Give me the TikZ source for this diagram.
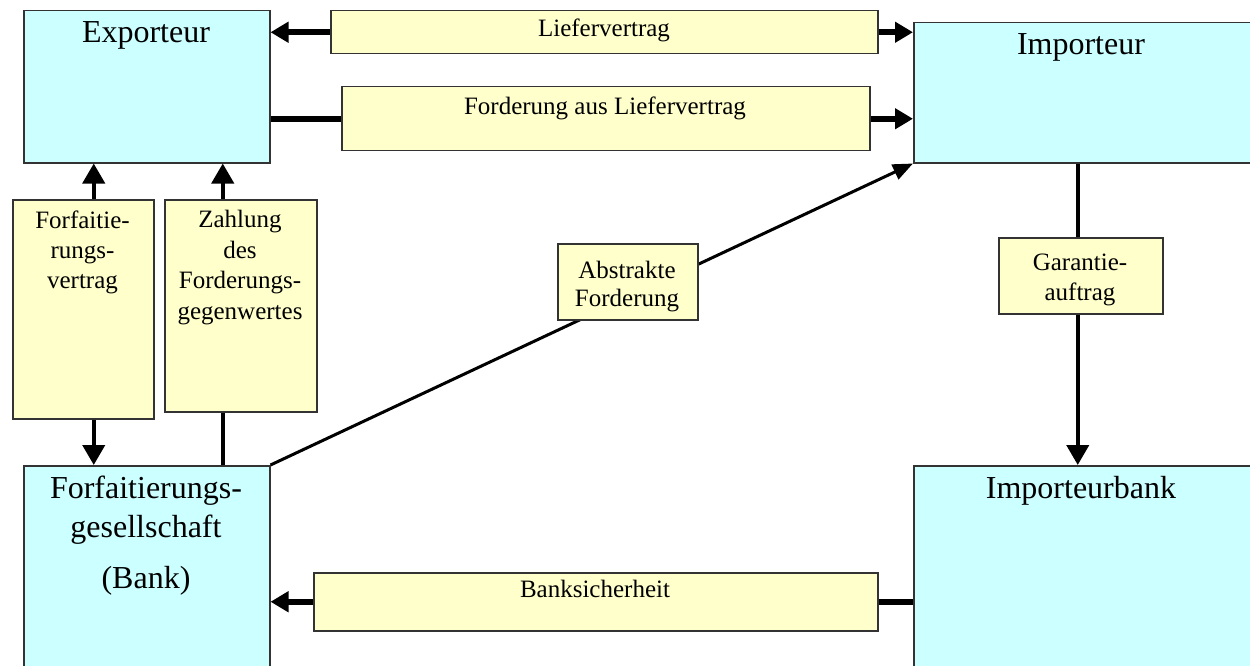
\documentclass[tikz,border=0pt]{standalone}
\usepackage{fontspec}
\setmainfont{Liberation Serif}
\usetikzlibrary{arrows.meta}
\definecolor{cyanfill}{HTML}{CCFFFF}
\definecolor{yelfill}{HTML}{FFFFCC}
\definecolor{edgegray}{HTML}{333333}
\begin{document}
\begin{tikzpicture}[x=1pt,y=-1pt,
  party/.style={draw=edgegray, line width=1.5pt, fill=cyanfill, anchor=north west, inner sep=0pt},
  flowbox/.style={draw=edgegray, line width=1.5pt, fill=yelfill, anchor=north west, inner sep=0pt},
  bigtxt/.style={font=\fontsize{32}{39}\selectfont, align=center, inner sep=0pt},
  smalltxt/.style={font=\fontsize{25}{30}\selectfont, align=center, inner sep=0pt},
  heavy/.style={line width=6pt, draw=black},
  heavyarrow/.style={heavy, -{Triangle[length=18pt,width=20pt]}},
  medium/.style={line width=4pt, draw=black},
  mediumarrow/.style={medium, -{Triangle[length=20pt,width=22pt]}},
  diagarrow/.style={line width=3pt, draw=black, -{Triangle[length=20pt,width=16pt]}}
]
\useasboundingbox (0,0) rectangle (1250,666);
\fill[white] (0,0) rectangle (1250,666);
\clip (0,0) rectangle (1250,666);

% parties
\node[party, minimum width=246pt, minimum height=152pt] (exp) at (23,10) {};
\node[party, minimum width=345pt, minimum height=140pt] (imp) at (913,22) {};
\node[party, minimum width=246pt, minimum height=230pt] (forf) at (23,465) {};
\node[party, minimum width=345pt, minimum height=230pt] (ib) at (913,465) {};

% flow boxes
\node[flowbox, minimum width=547pt, minimum height=43pt] (lv) at (330,10) {};
\node[flowbox, minimum width=528pt, minimum height=64pt] (fd) at (341,86) {};
\node[flowbox, minimum width=564pt, minimum height=58pt] (bs) at (313,572) {};
\node[flowbox, minimum width=141pt, minimum height=219pt] (fv) at (12,199) {};
\node[flowbox, minimum width=152pt, minimum height=212pt] (za) at (164,199) {};
\node[flowbox, minimum width=164pt, minimum height=76pt] (ga) at (998,237) {};

% connectors
\draw[heavyarrow] (lv.west) -- (lv.west -| exp.east);
\draw[heavyarrow] (lv.east) -- (lv.east -| imp.west);
\draw[heavy] (fd.west -| exp.east) -- (fd.west);
\draw[heavyarrow] (fd.east) -- (fd.east -| imp.west);
\draw[mediumarrow] ([xshift=10.5pt]fv.north) -- ([xshift=10.5pt]fv.north |- exp.south);
\draw[mediumarrow] ([xshift=10.5pt]fv.south) -- ([xshift=10.5pt]fv.south |- forf.north);
\draw[mediumarrow] ([xshift=-18pt]za.north) -- ([xshift=-18pt]za.north |- exp.south);
\draw[medium] ([xshift=-18pt]za.south) -- ([xshift=-18pt]za.south |- forf.north);
\draw[medium] ([xshift=-3pt]ga.north |- imp.south) -- ([xshift=-3pt]ga.north);
\draw[mediumarrow] ([xshift=-3pt]ga.south) -- ([xshift=-3pt]ga.south |- ib.north);
\draw[heavy] (bs.east -| ib.west) -- (bs.east);
\draw[heavyarrow] (bs.west) -- (bs.west -| forf.east);
\draw[diagarrow] (forf.north east) -- (imp.south west);

\node[flowbox, minimum width=140pt, minimum height=76pt] (ab) at (557,243) {};

% texts
\node[bigtxt, anchor=base] (exptxt) at (146,43) {Exporteur};
\node[bigtxt, anchor=base] (imptxt) at (1081,55) {Importeur};
\node[bigtxt, anchor=base] (ibtxt) at (1081,498) {Importeurbank};
\node[bigtxt, anchor=north] (forftxt) at (146,476) {Forfaitierungs-\\gesellschaft\\[12pt](Bank)};
\node[smalltxt, anchor=base] (lvtxt) at (604,37) {Liefervertrag};
\node[smalltxt, anchor=base] (fdtxt) at (605,115) {Forderung aus Liefervertrag};
\node[smalltxt, anchor=base] (bstxt) at (595,597) {Banksicherheit};
\node[smalltxt, anchor=north] (fvtxt) at (82.5,211) {Forfaitie-\\rungs-\\vertrag};
\node[smalltxt, anchor=north, font=\fontsize{25}{30.7}\selectfont] (zatxt) at (240,210) {Zahlung\\des\\Forderungs-\\gegenwertes};
\node[smalltxt, anchor=north, font=\fontsize{25}{28}\selectfont] (abtxt) at (627,261) {Abstrakte\\Forderung};
\node[smalltxt, anchor=north] (gatxt) at (1080,254) {Garantie-\\auftrag};
\end{tikzpicture}
\end{document}
